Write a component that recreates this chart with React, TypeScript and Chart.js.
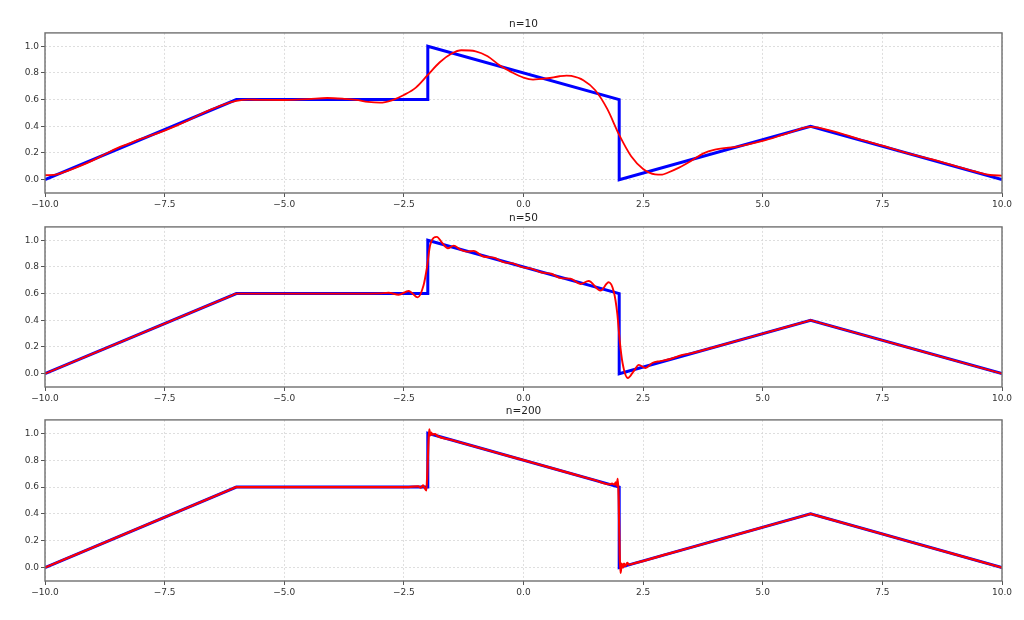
import React, { useEffect, useRef } from 'react';
import { Chart, registerables } from 'chart.js';

Chart.register(...registerables);

// Target (blue) piecewise function, same in every panel
const targetX = [-10, -6, -2, -2, 2, 2, 6, 10];
const targetY = [0, 0.6, 0.6, 1.0, 0.6, 0, 0.4, 0];

// Red approximation, n=10
const n10X = [-10, -9.75, -9.5, -9.25, -9.0, -8.75, -8.5, -8.25, -8.0, -7.75, -7.5, -7.25, -7.0, -6.75, -6.5, -6.25, -6.0, -5.75, -5.5, -5.0, -4.5, -4.1, -3.75, -3.5, -3.25, -3.0, -2.75, -2.5, -2.25, -2.0, -1.75, -1.5, -1.3, -1.0, -0.75, -0.5, -0.25, 0.0, 0.2, 0.5, 0.75, 0.9, 1.0, 1.25, 1.5, 1.75, 2.0, 2.25, 2.5, 2.75, 2.9, 3.0, 3.25, 3.5, 3.75, 4.0, 4.5, 5.0, 5.5, 6.0, 6.5, 7.0, 7.5, 8.0, 8.5, 9.0, 9.5, 9.75, 10.0];
const n10Y = [0.033, 0.04, 0.07, 0.105, 0.145, 0.19, 0.235, 0.27, 0.305, 0.335, 0.368, 0.405, 0.445, 0.49, 0.53, 0.565, 0.59, 0.6, 0.598, 0.597, 0.604, 0.612, 0.606, 0.598, 0.583, 0.577, 0.595, 0.635, 0.69, 0.785, 0.88, 0.945, 0.97, 0.962, 0.925, 0.857, 0.806, 0.765, 0.75, 0.76, 0.775, 0.78, 0.777, 0.745, 0.67, 0.53, 0.335, 0.175, 0.08, 0.04, 0.038, 0.05, 0.09, 0.14, 0.195, 0.225, 0.25, 0.29, 0.345, 0.395, 0.36, 0.305, 0.255, 0.2, 0.155, 0.105, 0.055, 0.035, 0.03];

// Red approximation, n=50
const n50X = [-10, -9, -8, -7, -6.1, -6, -5.9, -5, -4, -3.5, -3.0, -2.82, -2.61, -2.4, -2.21, -2.09, -2.02, -1.95, -1.81, -1.7, -1.58, -1.46, -1.32, -1.18, -1.04, -0.84, -0.62, -0.42, -0.22, -0.02, 0.18, 0.38, 0.58, 0.78, 0.98, 1.19, 1.36, 1.61, 1.78, 1.89, 1.96, 2.01, 2.07, 2.18, 2.3, 2.41, 2.55, 2.69, 2.86, 3.07, 3.3, 3.5, 4.0, 5.0, 5.9, 6.0, 6.1, 7.0, 8.0, 9.0, 10.0];
const n50Y = [0.0, 0.15, 0.3, 0.45, 0.585, 0.6, 0.6, 0.6, 0.6, 0.6, 0.602, 0.606, 0.592, 0.62, 0.572, 0.66, 0.79, 0.965, 1.025, 0.98, 0.94, 0.96, 0.93, 0.915, 0.92, 0.878, 0.87, 0.836, 0.826, 0.798, 0.786, 0.758, 0.749, 0.716, 0.712, 0.672, 0.694, 0.622, 0.685, 0.61, 0.45, 0.25, 0.08, -0.033, 0.017, 0.066, 0.042, 0.08, 0.094, 0.11, 0.138, 0.152, 0.2, 0.3, 0.39, 0.4, 0.39, 0.3, 0.2, 0.1, 0.0];

// Red approximation, n=200
const n200X = [-10, -9, -8, -7, -6.1, -6, -5.9, -5, -4, -3, -2.4, -2.2, -2.15, -2.1, -2.06, -2.03, -2.01, -1.99, -1.97, -1.95, -1.93, -1.9, -1.85, -1.8, -1.5, -1.0, -0.5, 0.0, 0.5, 1.0, 1.5, 1.8, 1.85, 1.9, 1.93, 1.95, 1.97, 1.99, 2.01, 2.03, 2.05, 2.08, 2.1, 2.13, 2.17, 2.2, 2.3, 3.0, 4.0, 5.0, 5.9, 6.0, 6.1, 7.0, 8.0, 9.0, 10.0];
const n200Y = [0.0, 0.15, 0.3, 0.45, 0.585, 0.6, 0.6, 0.6, 0.6, 0.6, 0.6, 0.605, 0.595, 0.612, 0.59, 0.575, 0.7, 0.9, 1.03, 0.985, 1.005, 0.99, 0.995, 0.98, 0.95, 0.9, 0.85, 0.8, 0.75, 0.7, 0.65, 0.62, 0.625, 0.618, 0.635, 0.61, 0.66, 0.5, 0.1, -0.04, 0.03, 0.0, 0.03, 0.012, 0.035, 0.022, 0.03, 0.1, 0.2, 0.3, 0.39, 0.4, 0.39, 0.3, 0.2, 0.1, 0.0];

const titles = ['n=10', 'n=50', 'n=200'];
const xTicks = [-10, -7.5, -5, -2.5, 0, 2.5, 5, 7.5, 10];
const xTickLabels = ['\u221210.0', '\u22127.5', '\u22125.0', '\u22122.5', '0.0', '2.5', '5.0', '7.5', '10.0'];
const yTicks = [0, 0.2, 0.4, 0.6, 0.8, 1.0];
const yTickLabels = ['0.0', '0.2', '0.4', '0.6', '0.8', '1.0'];

const FONT = 'DejaVu Sans';

const framePlugin = {
  id: 'frame',
  afterDatasetsDraw(chart: any) {
    const { ctx, chartArea } = chart;
    ctx.save();
    ctx.strokeStyle = '#707070';
    ctx.lineWidth = 1.4;
    ctx.strokeRect(chartArea.left, chartArea.top, chartArea.right - chartArea.left, chartArea.bottom - chartArea.top);
    ctx.restore();
  },
};

function Panel(props: { title: string; xs: number[]; ys: number[]; top: number; plotH: number; redW: number }) {
  const ref = useRef<HTMLCanvasElement | null>(null);
  const H = 17 + props.plotH + 20;
  useEffect(() => {
    if (!ref.current) return;
    const red = props.xs.map((x, i) => ({ x, y: props.ys[i] }));
    const blue = targetX.map((x, i) => ({ x, y: targetY[i] }));
    const gridCommon = {
      color: '#d6d6d6',
      lineWidth: 0.8,
      tickColor: '#555',
      tickLength: 4,
      tickWidth: 1,
      tickBorderDash: [],
    };
    const chart = new Chart(ref.current, {
      type: 'line',
      data: {
        datasets: [
          {
            data: red,
            borderColor: '#ff0000',
            borderWidth: props.redW,
            pointRadius: 0,
            cubicInterpolationMode: 'monotone',
            fill: false,
            order: 0,
          },
          {
            data: blue,
            borderColor: '#0000ff',
            borderWidth: 3,
            pointRadius: 0,
            tension: 0,
            fill: false,
            order: 1,
          },
        ],
      },
      options: {
        animation: false,
        responsive: false,
        events: [],
        layout: { padding: { left: 0, right: 22, top: 0, bottom: 0 } },
        plugins: {
          legend: { display: false },
          tooltip: { enabled: false },
          title: {
            display: true,
            text: props.title,
            fullSize: false,
            color: '#222',
            font: { family: FONT, size: 10.5, weight: 'normal' },
            lineHeight: 1.2,
            padding: { top: 1.5, bottom: 2.8 },
          },
        },
        scales: {
          x: {
            type: 'linear',
            min: -10,
            max: 10,
            afterBuildTicks: (s: any) => {
              s.ticks = xTicks.map((v) => ({ value: v }));
            },
            afterFit: (s: any) => {
              s.height = 20;
            },
            ticks: {
              callback: (_v: any, i: number) => xTickLabels[i],
              autoSkip: false,
              maxRotation: 0,
              padding: 2,
              color: '#333',
              font: { family: FONT, size: 9 },
            },
            grid: gridCommon,
            border: { display: false, dash: [2, 2] },
          },
          y: {
            type: 'linear',
            min: -0.1,
            max: 1.1,
            afterBuildTicks: (s: any) => {
              s.ticks = yTicks.map((v) => ({ value: v }));
            },
            afterFit: (s: any) => {
              s.width = 45;
            },
            ticks: {
              callback: (_v: any, i: number) => yTickLabels[i],
              autoSkip: false,
              padding: 2,
              color: '#333',
              font: { family: FONT, size: 9 },
            },
            grid: gridCommon,
            border: { display: false, dash: [2, 2] },
          },
        },
      } as any,
      plugins: [framePlugin],
    } as any);
    return () => chart.destroy();
  }, []);
  return (
    <canvas
      ref={ref}
      width={1024}
      height={H}
      style={{ position: 'absolute', left: 0, top: props.top, width: 1024, height: H }}
    />
  );
}

export default function App() {
  return (
    <div style={{ position: 'absolute', left: 0, top: 0, width: 1024, height: 620, background: '#fff' }}>
      <Panel title={titles[0]} xs={n10X} ys={n10Y} top={16} plotH={160} redW={1.8} />
      <Panel title={titles[1]} xs={n50X} ys={n50Y} top={210} plotH={160} redW={1.9} />
      <Panel title={titles[2]} xs={n200X} ys={n200Y} top={403} plotH={161} redW={2.2} />
    </div>
  );
}
